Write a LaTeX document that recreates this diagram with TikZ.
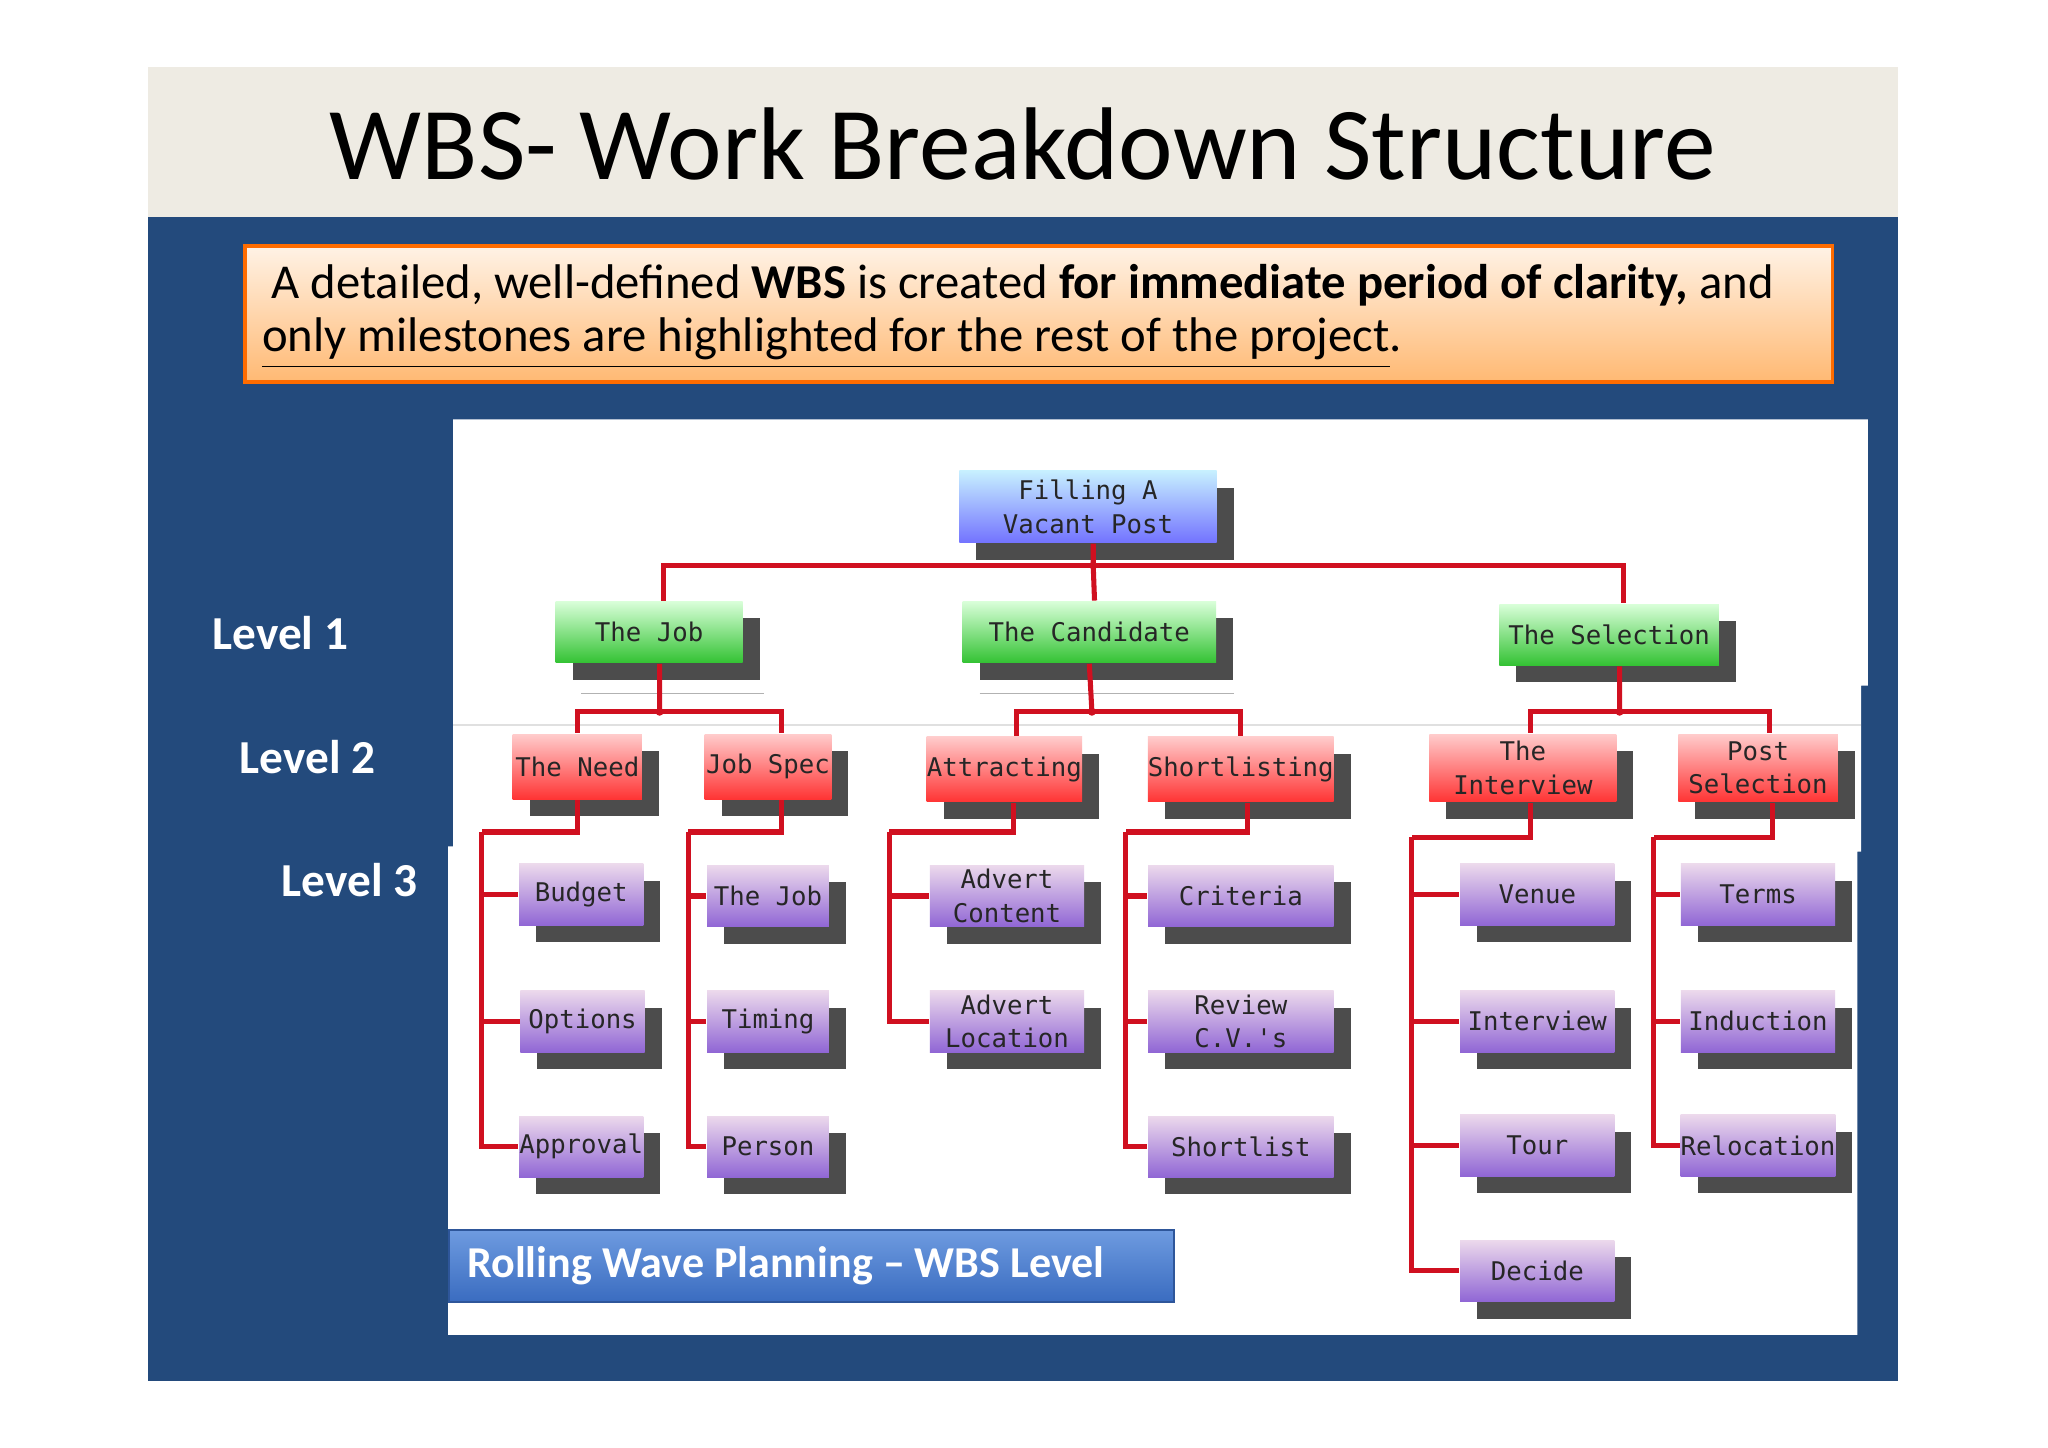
\documentclass[tikz,border=0pt]{standalone}
\usepackage{fontspec}
\setmainfont{Carlito}
\newfontfamily\boxfont{DejaVu Sans Mono}
\usetikzlibrary{shadows}
\definecolor{bandc}{HTML}{EEEBE3}
\definecolor{bluebg}{HTML}{234A7C}
\definecolor{wred}{HTML}{D01020}
\definecolor{rwtop}{HTML}{6E9BE0}
\definecolor{rwbot}{HTML}{3A6CC0}
\begin{document}
\begin{tikzpicture}[x=0.01cm,y=-0.01cm,
 bx/.style={inner sep=0pt,align=center,font=\boxfont\fontsize{5.6}{7.3}\selectfont,text=black!85,
   drop shadow={shadow xshift=0.13cm,shadow yshift=-0.13cm,fill=black!70,opacity=1}},
 l0/.style={bx,top color=blue!25!white!60!cyan!40,bottom color=blue!55!white,minimum height=0.55cm,minimum width=1.97cm},
 l1/.style={bx,top color=green!15!white,bottom color=green!70!black!80,minimum height=0.47cm},
 l2/.style={bx,top color=red!20!white,bottom color=red!80!white,minimum height=0.5cm},
 l3/.style={bx,top color=violet!15!white,bottom color=blue!45!violet!60!white,minimum height=0.47cm},
 rl/.style={draw=wred,line width=1.1pt},
 lev/.style={text=white,font=\bfseries\fontsize{10.3}{12}\selectfont,anchor=west,inner sep=0pt}]
\useasboundingbox (0,0) rectangle (1568,1108);
\fill[white] (0,0) rectangle (1568,1108);
\fill[bandc] (113,51) rectangle (1453,166);
\fill[bluebg] (113,166) rectangle (1453,1057);
\node[font=\fontsize{22.5}{26}\selectfont] (title) at (783,110) {WBS- Work Breakdown Structure};
\node[draw=orange!85!red,line width=0.8pt,top color=orange!10!white,bottom color=orange!55!white,
  minimum width=12.15cm,minimum height=1.04cm,anchor=north west,inner sep=0pt] (ob) at (186,187) {};
\node[anchor=west,font=\fontsize{10.6}{12}\selectfont,inner sep=0pt] (t1) at (207,218) {A detailed, well-defined \textbf{WBS} is created \textbf{for immediate period of clarity,} and};
\node[anchor=west,font=\fontsize{10.6}{12}\selectfont,inner sep=0pt] (t2) at (200,263) {\underline{only milestones are highlighted for the rest of the project}.};
\fill[white] (347,321) -- (1430,321) -- (1430,525) -- (1425,525) -- (1425,652) -- (1422,652) -- (1422,1022) -- (343,1022) -- (343,648) -- (347,648) -- cycle;
\draw[black!12] (347,555) -- (1425,555);
\draw[black!30] (750,531) -- (945,531);
\draw[black!30] (445,531) -- (585,531);
\node[lev] (lv1) at (162,485) {Level 1};
\node[lev] (lv2) at (183,580) {Level 2};
\node[lev] (lv3) at (215,674) {Level 3};
% nodes
\node[l0] (top) at (833,388) {Filling A\\Vacant Post};
\node[l1,minimum width=1.43cm] (job) at (497,484) {The Job};
\node[l1,minimum width=1.94cm] (cand) at (834,484) {The Candidate};
\node[l1,minimum width=1.68cm] (sel) at (1232,486) {The Selection};
\node[l2,minimum width=0.99cm] (need) at (442,587) {The Need};
\node[l2,minimum width=0.97cm] (spec) at (588,587) {Job Spec};
\node[l2,minimum width=1.19cm] (attr) at (769,589) {Attracting};
\node[l2,minimum width=1.42cm] (short) at (950,589) {Shortlisting};
\node[l2,minimum width=1.43cm,minimum height=0.52cm] (intv) at (1166,588) {The\\Interview};
\node[l2,minimum width=1.22cm,minimum height=0.52cm] (post) at (1346,588) {Post\\Selection};
\node[l3,minimum width=0.95cm] (budget) at (445,685) {Budget};
\node[l3,minimum width=0.95cm] (options) at (446,782) {Options};
\node[l3,minimum width=0.95cm] (approval) at (445,878) {Approval};
\node[l3,minimum width=0.93cm] (job3) at (588,686) {The Job};
\node[l3,minimum width=0.93cm] (timing) at (588,782) {Timing};
\node[l3,minimum width=0.93cm] (person) at (588,878) {Person};
\node[l3,minimum width=1.18cm] (acont) at (771,686) {Advert\\Content};
\node[l3,minimum width=1.18cm] (aloc) at (771,782) {Advert\\Location};
\node[l3,minimum width=1.42cm] (crit) at (950,686) {Criteria};
\node[l3,minimum width=1.42cm] (rev) at (950,782) {Review\\C.V.'s};
\node[l3,minimum width=1.42cm] (slist) at (950,878) {Shortlist};
\node[l3,minimum width=1.18cm] (venue) at (1177,685) {Venue};
\node[l3,minimum width=1.18cm] (iview) at (1177,782) {Interview};
\node[l3,minimum width=1.18cm] (tour) at (1177,877) {Tour};
\node[l3,minimum width=1.18cm] (decide) at (1177,973) {Decide};
\node[l3,minimum width=1.18cm] (terms) at (1346,685) {Terms};
\node[l3,minimum width=1.18cm] (induct) at (1346,782) {Induction};
\node[l3,minimum width=1.18cm] (reloc) at (1346,877) {Relocation};
% connectors
\coordinate (c0) at (837,433);
\draw[rl] ([xshift=0.04cm]top.south) -- (c0);
\draw[rl] (c0) -| ([xshift=0.11cm]job.north);
\draw[rl] (c0) -- ([xshift=0.04cm]cand.north);
\draw[rl] (c0) -| ([xshift=0.11cm]sel.north);
\fill[wred] (c0) circle (3);
\coordinate (c1) at (505,545);
\draw[rl] ([xshift=0.08cm]job.south) -- (c1);
\draw[rl] (c1) -| (need.north); \draw[rl] (c1) -| ([xshift=0.1cm]spec.north);
\coordinate (c2) at (836,545);
\draw[rl] (cand.south) -- (c2);
\draw[rl] (c2) -| ([xshift=0.09cm]attr.north); \draw[rl] (c2) -| (short.north);
\coordinate (c3) at (1240,545);
\draw[rl] ([xshift=0.08cm]sel.south) -- (c3);
\draw[rl] (c3) -| ([xshift=0.06cm]intv.north); \draw[rl] (c3) -| ([xshift=0.09cm]post.north);
\foreach \c in {c1,c2,c3} \fill[wred] (\c) circle (3);
\coordinate (s1) at (369,637);
\draw[rl] (need.south) |- (s1);
\foreach \n in {budget,options,approval} \draw[rl] (s1) |- (\n.west);
\coordinate (s2) at (527,637);
\draw[rl] ([xshift=0.1cm]spec.south) |- (s2);
\foreach \n in {job3,timing,person} \draw[rl] (s2) |- (\n.west);
\coordinate (s3) at (681,637);
\draw[rl] ([xshift=0.07cm]attr.south) |- (s3);
\foreach \n in {acont,aloc} \draw[rl] (s3) |- (\n.west);
\coordinate (s4) at (862,637);
\draw[rl] ([xshift=0.05cm]short.south) |- (s4);
\foreach \n in {crit,rev,slist} \draw[rl] (s4) |- (\n.west);
\coordinate (s5) at (1081,641);
\draw[rl] ([xshift=0.06cm]intv.south) |- (s5);
\foreach \n in {venue,iview,tour,decide} \draw[rl] (s5) |- (\n.west);
\coordinate (s6) at (1266,641);
\draw[rl] ([xshift=0.11cm]post.south) |- (s6);
\foreach \n in {terms,induct,reloc} \draw[rl] (s6) |- (\n.west);
% bottom label
\node[anchor=north west,minimum width=5.55cm,minimum height=0.55cm,inner sep=0pt,
  top color=rwtop,bottom color=rwbot,draw=rwbot!80!black] (rw) at (343,941) {};
\node[anchor=west,text=white,font=\bfseries\fontsize{9.6}{12}\selectfont,inner sep=0pt] (rwt) at (357,969) {Rolling Wave Planning – WBS Level};
\end{tikzpicture}
\end{document}
